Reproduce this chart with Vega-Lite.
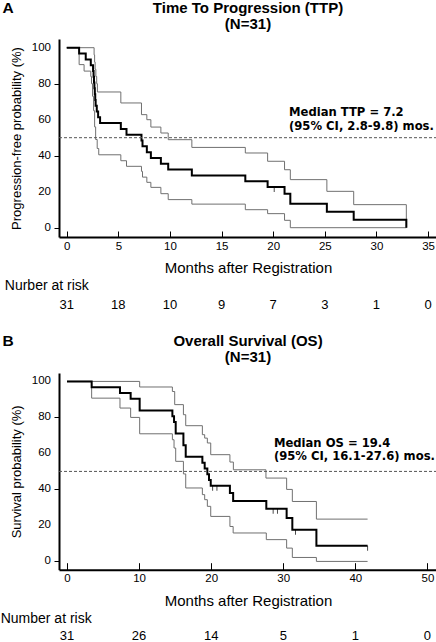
{
  "$schema": "https://vega.github.io/schema/vega-lite/v6.json",
  "padding": 0,
  "background": "white",
  "bounds": "flush",
  "spacing": 136,
  "config": {
    "view": {"stroke": null},
    "font": "Liberation Sans",
    "axis": {
      "grid": false,
      "domainColor": "black",
      "domainWidth": 2,
      "tickColor": "black",
      "tickWidth": 1,
      "labelColor": "black",
      "labelFont": "Liberation Sans",
      "labelFontSize": 11.5,
      "titleColor": "black",
      "titleFont": "Liberation Sans",
      "titleFontWeight": "normal",
      "labelFlush": false
    }
  },
  "datasets": {
    "kmA": [
      {"t": 0, "p": 100, "s": "KM"}, {"t": 1.2, "p": 96.8, "s": "KM"}, {"t": 1.84, "p": 93.5, "s": "KM"}, {"t": 2.33, "p": 90.3, "s": "KM"},
      {"t": 2.55, "p": 87.1, "s": "KM"}, {"t": 2.6, "p": 83.9, "s": "KM"}, {"t": 2.64, "p": 80.6, "s": "KM"}, {"t": 2.68, "p": 77.4, "s": "KM"},
      {"t": 2.72, "p": 74.2, "s": "KM"}, {"t": 2.76, "p": 71.0, "s": "KM"}, {"t": 2.8, "p": 67.7, "s": "KM"}, {"t": 2.91, "p": 64.5, "s": "KM"},
      {"t": 3.04, "p": 61.3, "s": "KM"}, {"t": 3.23, "p": 58.1, "s": "KM"}, {"t": 5.24, "p": 54.8, "s": "KM"}, {"t": 5.79, "p": 51.6, "s": "KM"},
      {"t": 7.24, "p": 48.4, "s": "KM"}, {"t": 7.34, "p": 45.2, "s": "KM"}, {"t": 7.76, "p": 41.9, "s": "KM"}, {"t": 8.15, "p": 38.7, "s": "KM"},
      {"t": 9.12, "p": 35.5, "s": "KM"}, {"t": 9.83, "p": 32.3, "s": "KM"}, {"t": 12.12, "p": 29.0, "s": "KM"}, {"t": 17.3, "p": 25.8, "s": "KM"},
      {"t": 19.46, "p": 22.6, "s": "KM"}, {"t": 21.1, "p": 18.8, "s": "KM"}, {"t": 21.66, "p": 13.3, "s": "KM"}, {"t": 25.2, "p": 8.9, "s": "KM"},
      {"t": 27.8, "p": 4.4, "s": "KM"}, {"t": 32.9, "p": 0, "s": "KM"},
      {"t": 0, "p": 100, "s": "Upper"}, {"t": 2.65, "p": 96, "s": "Upper"}, {"t": 2.7, "p": 92, "s": "Upper"}, {"t": 2.75, "p": 88, "s": "Upper"},
      {"t": 2.82, "p": 84, "s": "Upper"}, {"t": 2.9, "p": 80, "s": "Upper"}, {"t": 2.97, "p": 75.4, "s": "Upper"}, {"t": 5.24, "p": 69.3, "s": "Upper"},
      {"t": 7.24, "p": 62.8, "s": "Upper"}, {"t": 7.76, "p": 60.0, "s": "Upper"}, {"t": 8.15, "p": 55.9, "s": "Upper"}, {"t": 9.12, "p": 52.6, "s": "Upper"},
      {"t": 9.83, "p": 48.9, "s": "Upper"}, {"t": 12.12, "p": 44.6, "s": "Upper"}, {"t": 17.3, "p": 41.5, "s": "Upper"}, {"t": 19.46, "p": 36.9, "s": "Upper"},
      {"t": 21.1, "p": 32.2, "s": "Upper"}, {"t": 21.66, "p": 26.7, "s": "Upper"}, {"t": 25.2, "p": 20.2, "s": "Upper"}, {"t": 27.8, "p": 12.8, "s": "Upper"},
      {"t": 32.9, "p": 0, "s": "Upper"},
      {"t": 0, "p": 100, "s": "Lower"}, {"t": 1.2, "p": 90.6, "s": "Lower"}, {"t": 1.68, "p": 87, "s": "Lower"}, {"t": 2.33, "p": 84, "s": "Lower"},
      {"t": 2.4, "p": 80, "s": "Lower"}, {"t": 2.5, "p": 73, "s": "Lower"}, {"t": 2.6, "p": 65, "s": "Lower"}, {"t": 2.7, "p": 56, "s": "Lower"},
      {"t": 2.8, "p": 49, "s": "Lower"}, {"t": 2.95, "p": 44, "s": "Lower"}, {"t": 3.1, "p": 40.5, "s": "Lower"}, {"t": 5.24, "p": 37.2, "s": "Lower"},
      {"t": 5.79, "p": 34.1, "s": "Lower"}, {"t": 7.24, "p": 31.3, "s": "Lower"}, {"t": 7.34, "p": 28.1, "s": "Lower"}, {"t": 7.76, "p": 25.2, "s": "Lower"},
      {"t": 8.15, "p": 22.4, "s": "Lower"}, {"t": 9.12, "p": 18.9, "s": "Lower"}, {"t": 9.83, "p": 15.6, "s": "Lower"}, {"t": 12.12, "p": 13.1, "s": "Lower"},
      {"t": 17.3, "p": 10.0, "s": "Lower"}, {"t": 19.46, "p": 7.8, "s": "Lower"}, {"t": 21.1, "p": 4.1, "s": "Lower"}, {"t": 21.66, "p": 0, "s": "Lower"},
      {"t": 32.9, "p": 0, "s": "Lower"}
    ],
    "kmB": [
      {"t": 0, "p": 100, "s": "KM"}, {"t": 3.42, "p": 96.8, "s": "KM"}, {"t": 7.35, "p": 93.5, "s": "KM"}, {"t": 8.83, "p": 90.3, "s": "KM"},
      {"t": 10.08, "p": 83.9, "s": "KM"}, {"t": 14.62, "p": 80.6, "s": "KM"}, {"t": 14.85, "p": 77.4, "s": "KM"}, {"t": 15.08, "p": 71.0, "s": "KM"},
      {"t": 16.15, "p": 64.5, "s": "KM"}, {"t": 16.47, "p": 58.1, "s": "KM"}, {"t": 18.78, "p": 54.8, "s": "KM"}, {"t": 19.1, "p": 51.6, "s": "KM"},
      {"t": 19.47, "p": 48.4, "s": "KM"}, {"t": 19.7, "p": 45.2, "s": "KM"}, {"t": 19.94, "p": 42.0, "s": "KM"}, {"t": 22.6, "p": 38.0, "s": "KM"},
      {"t": 23.05, "p": 33.6, "s": "KM"}, {"t": 27.65, "p": 29.3, "s": "KM"}, {"t": 30.47, "p": 24.1, "s": "KM"}, {"t": 31.26, "p": 17.6, "s": "KM"},
      {"t": 34.6, "p": 8.7, "s": "KM"}, {"t": 41.7, "p": 8.7, "s": "KM"},
      {"t": 0, "p": 100, "s": "Upper"}, {"t": 10.08, "p": 96.9, "s": "Upper"}, {"t": 14.62, "p": 94.4, "s": "Upper"}, {"t": 14.94, "p": 87.1, "s": "Upper"},
      {"t": 16.15, "p": 81.5, "s": "Upper"}, {"t": 16.47, "p": 75.4, "s": "Upper"}, {"t": 18.78, "p": 70.4, "s": "Upper"}, {"t": 19.1, "p": 68.5, "s": "Upper"},
      {"t": 19.47, "p": 65.8, "s": "Upper"}, {"t": 19.94, "p": 59.3, "s": "Upper"}, {"t": 22.6, "p": 55.2, "s": "Upper"}, {"t": 23.08, "p": 50.9, "s": "Upper"},
      {"t": 27.6, "p": 46.3, "s": "Upper"}, {"t": 30.47, "p": 40.0, "s": "Upper"}, {"t": 31.26, "p": 33.3, "s": "Upper"}, {"t": 34.6, "p": 23.5, "s": "Upper"},
      {"t": 41.7, "p": 23.5, "s": "Upper"},
      {"t": 0, "p": 100, "s": "Lower"}, {"t": 3.42, "p": 90.7, "s": "Lower"}, {"t": 7.35, "p": 85.2, "s": "Lower"}, {"t": 8.83, "p": 80.0, "s": "Lower"},
      {"t": 10.08, "p": 70.9, "s": "Lower"}, {"t": 14.62, "p": 67.6, "s": "Lower"}, {"t": 14.85, "p": 63.0, "s": "Lower"}, {"t": 15.08, "p": 55.6, "s": "Lower"},
      {"t": 16.15, "p": 48.6, "s": "Lower"}, {"t": 16.47, "p": 40.8, "s": "Lower"}, {"t": 18.78, "p": 37.1, "s": "Lower"}, {"t": 19.1, "p": 34.3, "s": "Lower"},
      {"t": 19.47, "p": 30.6, "s": "Lower"}, {"t": 19.94, "p": 25.0, "s": "Lower"}, {"t": 22.6, "p": 19.4, "s": "Lower"}, {"t": 23.05, "p": 15.8, "s": "Lower"},
      {"t": 27.65, "p": 12.1, "s": "Lower"}, {"t": 30.47, "p": 7.4, "s": "Lower"}, {"t": 31.26, "p": 2.2, "s": "Lower"}, {"t": 34.6, "p": 0, "s": "Lower"},
      {"t": 41.7, "p": 0, "s": "Lower"}
    ],
    "censA": [{"t": 20.1, "p": 22.6}],
    "censB": [
      {"t": 20.2, "p": 42.0}, {"t": 20.8, "p": 42.0}, {"t": 28.6, "p": 29.3}, {"t": 29.2, "p": 29.3}, {"t": 31.7, "p": 17.6}, {"t": 41.7, "p": 8.7}
    ],
    "labY": [{"v": 0}, {"v": 20}, {"v": 40}, {"v": 60}, {"v": 80}, {"v": 100}],
    "riskA": [
      {"t": 0, "n": 31}, {"t": 5, "n": 18}, {"t": 10, "n": 10}, {"t": 15, "n": 9}, {"t": 20, "n": 7}, {"t": 25, "n": 3}, {"t": 30, "n": 1}, {"t": 35, "n": 0}
    ],
    "riskB": [
      {"t": 0, "n": 31}, {"t": 10, "n": 26}, {"t": 20, "n": 14}, {"t": 30, "n": 5}, {"t": 40, "n": 1}, {"t": 50, "n": 0}
    ]
  },
  "vconcat": [
    {
      "width": 378,
      "height": 198,
      "layer": [
        {
          "data": {"name": "kmA"},
          "transform": [{"filter": "datum.s !== 'KM'"}],
          "mark": {"type": "line", "interpolate": "step-after", "color": "#707070", "strokeWidth": 1},
          "encoding": {
            "x": {"field": "t", "type": "quantitative", "scale": {"domain": [-0.75, 35.87], "nice": false, "zero": false},
                  "axis": {"title": "Months after Registration", "values": [0, 5, 10, 15, 20, 25, 30, 35], "tickSize": -6, "labelPadding": 9, "labelOverlap": false, "titleFontSize": 15, "titlePadding": 9}},
            "y": {"field": "p", "type": "quantitative", "scale": {"domain": [-5.17, 104.83], "nice": false, "zero": false},
                  "axis": {"title": "Progression-free probability (%)", "values": [0, 10, 20, 30, 40, 50, 60, 70, 80, 90, 100], "labels": false, "tickSize": 5, "titleFontSize": 13, "titlePadding": 30}},
            "detail": {"field": "s"}
          }
        },
        {
          "data": {"name": "kmA"},
          "transform": [{"filter": "datum.s === 'KM'"}],
          "mark": {"type": "line", "interpolate": "step-after", "color": "black", "strokeWidth": 2},
          "encoding": {
            "x": {"field": "t", "type": "quantitative"},
            "y": {"field": "p", "type": "quantitative"}
          }
        },
        {
          "data": {"name": "labY"},
          "mark": {"type": "text", "font": "Liberation Sans", "fontSize": 11.5, "align": "right", "baseline": "middle", "xOffset": -8, "color": "black"},
          "encoding": {
            "x": {"datum": -0.75, "type": "quantitative"},
            "y": {"field": "v", "type": "quantitative"},
            "text": {"field": "v", "type": "quantitative"}
          }
        },
        {
          "data": {"values": [{}]},
          "mark": {"type": "rule", "strokeDash": [3, 2], "color": "#555555", "strokeWidth": 1},
          "encoding": {"y": {"datum": 50, "type": "quantitative"}}
        },
        {
          "data": {"name": "censA"},
          "mark": {"type": "tick", "orient": "vertical", "color": "black", "thickness": 1, "size": 5, "yOffset": 2.5},
          "encoding": {
            "x": {"field": "t", "type": "quantitative"},
            "y": {"field": "p", "type": "quantitative"}
          }
        },
        {
          "data": {"values": [{}]},
          "mark": {"type": "text", "text": ["Median TTP = 7.2", "(95% CI, 2.8-9.8) mos."], "font": "DejaVu Sans", "fontWeight": "bold", "fontSize": 11.6, "lineHeight": 14, "align": "left", "baseline": "alphabetic", "color": "black"},
          "encoding": {"x": {"datum": 21.53, "type": "quantitative"}, "y": {"datum": 62.2, "type": "quantitative"}}
        },
        {
          "data": {"values": [{}]},
          "mark": {"type": "text", "text": ["Time To Progression (TTP)", "(N=31)"], "font": "Liberation Sans", "fontWeight": "bold", "fontSize": 15, "lineHeight": 16, "align": "center", "baseline": "alphabetic", "color": "black"},
          "encoding": {"x": {"datum": 17.56, "type": "quantitative"}, "y": {"datum": 119.5, "type": "quantitative"}}
        },
        {
          "data": {"values": [{}]},
          "mark": {"type": "text", "text": "A", "font": "Liberation Sans", "fontWeight": "bold", "fontSize": 15.5, "align": "left", "baseline": "alphabetic", "color": "black"},
          "encoding": {"x": {"datum": -6.23, "type": "quantitative"}, "y": {"datum": 119.5, "type": "quantitative"}}
        },
        {
          "data": {"values": [{}]},
          "mark": {"type": "text", "text": "Nurber at risk", "font": "Liberation Sans", "fontSize": 14, "align": "left", "baseline": "alphabetic", "color": "black"},
          "encoding": {"x": {"datum": -6.0, "type": "quantitative"}, "y": {"datum": -34.8, "type": "quantitative"}}
        },
        {
          "data": {"name": "riskA"},
          "mark": {"type": "text", "font": "Liberation Sans", "fontSize": 13, "align": "center", "baseline": "alphabetic", "color": "black"},
          "encoding": {
            "x": {"field": "t", "type": "quantitative"},
            "y": {"datum": -45.0, "type": "quantitative"},
            "text": {"field": "n", "type": "quantitative"}
          }
        }
      ]
    },
    {
      "width": 378,
      "height": 196.7,
      "layer": [
        {
          "data": {"name": "kmB"},
          "transform": [{"filter": "datum.s !== 'KM'"}],
          "mark": {"type": "line", "interpolate": "step-after", "color": "#707070", "strokeWidth": 1},
          "encoding": {
            "x": {"field": "t", "type": "quantitative", "scale": {"domain": [-1.11, 51.33], "nice": false, "zero": false},
                  "axis": {"title": "Months after Registration", "values": [0, 5, 10, 15, 20, 25, 30, 35, 40, 45, 50], "labelExpr": "datum.value % 10 === 0 ? datum.label : ''", "labelOverlap": false,
                           "tickSize": {"condition": {"test": "datum.value % 10 === 0", "value": -7}, "value": -4}, "labelPadding": 10, "titleFontSize": 15, "titlePadding": 9}},
            "y": {"field": "p", "type": "quantitative", "scale": {"domain": [-4.6, 104.67], "nice": false, "zero": false},
                  "axis": {"title": "Survival probability (%)", "values": [0, 10, 20, 30, 40, 50, 60, 70, 80, 90, 100], "labels": false, "tickSize": 5, "titleFontSize": 13, "titlePadding": 30}},
            "detail": {"field": "s"}
          }
        },
        {
          "data": {"name": "kmB"},
          "transform": [{"filter": "datum.s === 'KM'"}],
          "mark": {"type": "line", "interpolate": "step-after", "color": "black", "strokeWidth": 2},
          "encoding": {
            "x": {"field": "t", "type": "quantitative"},
            "y": {"field": "p", "type": "quantitative"}
          }
        },
        {
          "data": {"name": "labY"},
          "mark": {"type": "text", "font": "Liberation Sans", "fontSize": 11.5, "align": "right", "baseline": "middle", "xOffset": -8, "color": "black"},
          "encoding": {
            "x": {"datum": -1.11, "type": "quantitative"},
            "y": {"field": "v", "type": "quantitative"},
            "text": {"field": "v", "type": "quantitative"}
          }
        },
        {
          "data": {"values": [{}]},
          "mark": {"type": "rule", "strokeDash": [3, 2], "color": "#555555", "strokeWidth": 1},
          "encoding": {"y": {"datum": 50, "type": "quantitative"}}
        },
        {
          "data": {"name": "censB"},
          "mark": {"type": "tick", "orient": "vertical", "color": "black", "thickness": 1, "size": 5, "yOffset": 2.5},
          "encoding": {
            "x": {"field": "t", "type": "quantitative"},
            "y": {"field": "p", "type": "quantitative"}
          }
        },
        {
          "data": {"values": [{}]},
          "mark": {"type": "text", "text": ["Median OS = 19.4", "(95% CI, 16.1-27.6) mos."], "font": "DejaVu Sans", "fontWeight": "bold", "fontSize": 11.6, "lineHeight": 13, "align": "left", "baseline": "alphabetic", "color": "black"},
          "encoding": {"x": {"datum": 28.7, "type": "quantitative"}, "y": {"datum": 63.4, "type": "quantitative"}}
        },
        {
          "data": {"values": [{}]},
          "mark": {"type": "text", "text": ["Overall Survival (OS)", "(N=31)"], "font": "Liberation Sans", "fontWeight": "bold", "fontSize": 15, "lineHeight": 15.5, "align": "center", "baseline": "alphabetic", "color": "black"},
          "encoding": {"x": {"datum": 25.11, "type": "quantitative"}, "y": {"datum": 119.4, "type": "quantitative"}}
        },
        {
          "data": {"values": [{}]},
          "mark": {"type": "text", "text": "B", "font": "Liberation Sans", "fontWeight": "bold", "fontSize": 15.5, "align": "left", "baseline": "alphabetic", "color": "black"},
          "encoding": {"x": {"datum": -8.96, "type": "quantitative"}, "y": {"datum": 119.4, "type": "quantitative"}}
        },
        {
          "data": {"values": [{}]},
          "mark": {"type": "text", "text": "Number at risk", "font": "Liberation Sans", "fontSize": 14, "align": "left", "baseline": "alphabetic", "color": "black"},
          "encoding": {"x": {"datum": -9.2, "type": "quantitative"}, "y": {"datum": -34.2, "type": "quantitative"}}
        },
        {
          "data": {"name": "riskB"},
          "mark": {"type": "text", "font": "Liberation Sans", "fontSize": 13, "align": "center", "baseline": "alphabetic", "color": "black"},
          "encoding": {
            "x": {"field": "t", "type": "quantitative"},
            "y": {"datum": -43.6, "type": "quantitative"},
            "text": {"field": "n", "type": "quantitative"}
          }
        }
      ]
    }
  ]
}
